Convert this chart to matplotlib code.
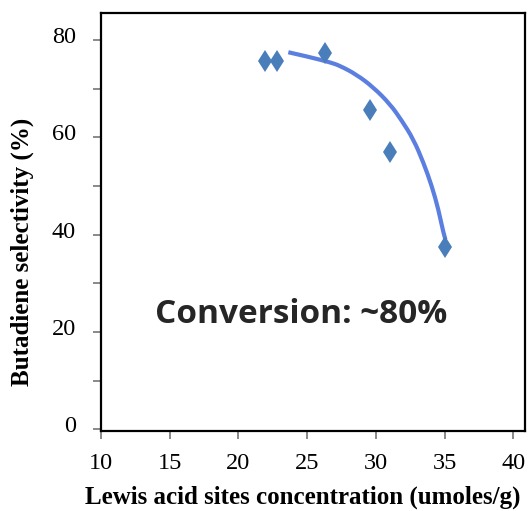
import matplotlib
matplotlib.use("Agg")
import matplotlib.pyplot as plt
import matplotlib.transforms as mtransforms
from matplotlib.path import Path
from matplotlib.patches import PathPatch

# measured samples
lewis_acid = [21.94, 22.79, 26.30, 29.60, 31.03, 35.03]
selectivity = [75.7, 75.7, 77.4, 65.6, 57.1, 37.4]

# hand-drawn trend curve
trend_x = [23.63, 25.10, 26.67, 27.39, 28.61, 29.82, 31.03, 31.88, 32.73, 33.46,
           34.07, 34.55, 34.91, 35.06]
trend_y = [77.53, 76.60, 75.46, 74.75, 72.90, 70.31, 66.87, 63.50, 59.65, 54.85,
           50.02, 45.21, 40.41, 39.00]

x_ticks = [10, 15, 20, 25, 30, 35, 40]
y_major = [0, 20, 40, 60, 80]
y_minor = [10, 30, 50, 70]


def smooth_path(xs, ys):
    # quadratic B-spline style path: sample points act as control points,
    # segments join at their midpoints
    pts = list(zip(xs, ys))
    verts = [pts[0]]
    codes = [Path.MOVETO]
    for i in range(1, len(pts) - 1):
        if i < len(pts) - 2:
            end = ((pts[i][0] + pts[i + 1][0]) / 2, (pts[i][1] + pts[i + 1][1]) / 2)
        else:
            end = pts[-1]
        verts += [pts[i], end]
        codes += [Path.CURVE3, Path.CURVE3]
    return Path(verts, codes)


fig = plt.figure(figsize=(5.28, 5.11), dpi=100)
ax = fig.add_axes([0.1913, 0.1566, 0.8030, 0.8189])

ax.add_patch(PathPatch(smooth_path(trend_x, trend_y), facecolor="none",
                       edgecolor="#5b7fe0", lw=3.0, capstyle="butt", zorder=2))
ax.plot(lewis_acid, selectivity, linestyle="none", marker="d", markersize=11.5,
        color="#4a7ebb", markeredgewidth=0, zorder=3)

ax.set_xlim(10, 40.85)
ax.set_ylim(-0.35, 85.7)

ax.set_xticks(x_ticks)
ax.set_yticks(y_major)
ax.set_yticks(y_minor, minor=True)

serif = "Liberation Serif"
ax.set_xticklabels([str(v) for v in x_ticks], fontfamily=serif, fontsize=17.5)
ax.set_yticklabels([str(v) for v in y_major], fontfamily=serif, fontsize=17.5)

ax.tick_params(axis="both", which="both", direction="out", length=6, width=1.3,
               color="#808080")
ax.tick_params(axis="x", pad=10)
ax.tick_params(axis="y", pad=12)

# y labels sit a little above their ticks
shift = mtransforms.ScaledTranslation(0, 5 / 100, fig.dpi_scale_trans)
for lbl in ax.get_yticklabels():
    lbl.set_transform(lbl.get_transform() + shift)

for side in ["left", "right", "top", "bottom"]:
    ax.spines[side].set_linewidth(1.6)
    ax.spines[side].set_color("black")

fig.text(0.573, 0.027, "Lewis acid sites concentration (umoles/g)", ha="center",
         va="center", fontfamily=serif, fontweight="bold", fontsize=18)
fig.text(0.042, 0.507, "Butadiene selectivity (%)", ha="center", va="center",
         rotation=90, fontfamily=serif, fontweight="bold", fontsize=18)

ax.text(0.570, 0.385, "Conversion: ~80%", transform=fig.transFigure, ha="center",
        va="center", fontfamily="Open Sans", fontweight="bold", fontsize=24,
        color="#262626")

fig.savefig("out.png", dpi=100)
